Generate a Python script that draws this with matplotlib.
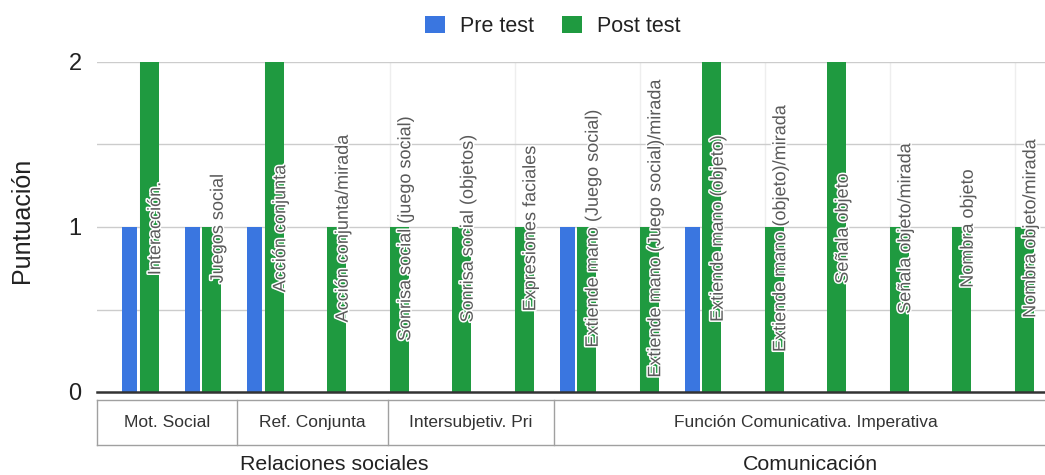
import matplotlib
matplotlib.use("Agg")
import matplotlib.pyplot as plt
import matplotlib.patheffects as pe
from matplotlib.transforms import blended_transform_factory
import numpy as np

plt.rcParams["font.family"] = ["Liberation Sans", "DejaVu Sans"]

# ---- data -------------------------------------------------------------
categories = [
    "Interacción.", "Juegos social",
    "Acción conjunta", "Acción conjunta/mirada",
    "Sonrisa social (juego social)", "Sonrisa social (objetos)",
    "Expresiones faciales",
    "Extiende mano (Juego social)", "Extiende mano (Juego social)/mirada",
    "Extiende mano (objeto)", "Extiende mano (objeto)/mirada",
    "Señala objeto", "Señala objeto/mirada",
    "Nombra objeto", "Nombra objeto/mirada",
]
pre_test = [1, 1, 1, 0, 0, 0, 0, 1, 0, 1, 0, 0, 0, 0, 0]
post_test = [2, 1, 2, 1, 1, 1, 1, 1, 1, 2, 1, 2, 1, 1, 1]

subgroups = ["Mot. Social", "Ref. Conjunta", "Intersubjetiv. Pri",
             "Función Comunicativa. Imperativa"]
groups = ["Relaciones sociales", "Comunicación"]
series_names = ["Pre test", "Post test"]
y_ticks = [0, 1, 2]

# ---- layout -----------------------------------------------------------
BLUE = "#3a76e0"
GREEN = "#1f9a40"
X_MIN, X_MAX = -0.69, 14.67
# cell boundaries of the sub-group table (in category units)
sub_edges = [X_MIN, 1.546, 3.962, 6.627, X_MAX]
group_centers = [3.10, 10.72]

fig = plt.figure(figsize=(10.45, 4.75), dpi=100)
ax = fig.add_axes([97 / 1045, 83 / 475, 960 / 1045, 330 / 475])

x = np.arange(len(categories))
ax.bar(x - 0.165, pre_test, width=0.245, color=BLUE, zorder=3,
       label=series_names[0])
ax.bar(x + 0.145, post_test, width=0.30, color=GREEN, zorder=3,
       label=series_names[1])

ax.set_xlim(X_MIN, X_MAX)
ax.set_ylim(0, 2)

# grid
for v in np.arange(0.5, 2.01, 0.5):
    ax.axhline(v, color="#cccccc", lw=1, zorder=1)
for xi in x[::2]:
    ax.axvline(xi, color="#eeeeee", lw=1, zorder=0.5)
ax.axhline(0, color="#333333", lw=1.8, zorder=4, clip_on=False)

for s in ax.spines.values():
    s.set_visible(False)
ax.set_xticks([])
ax.set_yticks(y_ticks)
ax.set_yticklabels([str(t) for t in y_ticks], fontsize=17, color="#222222")
ax.tick_params(axis="y", length=0, pad=11)

ax.text(-0.078, 0.52, "Puntuación", transform=ax.transAxes, rotation=90,
        ha="center", va="center", fontsize=18, color="#222222")

# category labels drawn vertically over the bars
halo = [pe.withStroke(linewidth=2.2, foreground="white")]
for xi, name in zip(x, categories):
    ax.text(xi + 0.25, 0.99, name, rotation=90, ha="center", va="center",
            fontsize=13, color="#5a5a5a", zorder=5, path_effects=halo)

# sub-group table and group labels below the axis
trans = blended_transform_factory(ax.transData, ax.transAxes)
y_top, y_bot = -0.0242, -0.1606
line_kw = dict(color="#a0a0a0", lw=1, transform=trans, clip_on=False)
ax.plot([X_MIN, X_MAX], [y_top, y_top], **line_kw)
ax.plot([X_MIN, X_MAX], [y_bot, y_bot], **line_kw)
for e in sub_edges[:-1]:
    ax.plot([e, e], [y_top, y_bot], **line_kw)
for i, name in enumerate(subgroups):
    cx = (sub_edges[i] + sub_edges[i + 1]) / 2
    ax.text(cx, (y_top + y_bot) / 2, name, transform=trans, ha="center",
            va="center", fontsize=12.5, color="#333333")
for cx, name in zip(group_centers, groups):
    ax.text(cx, -0.2212, name, transform=trans, ha="center", va="center",
            fontsize=15.4, color="#222222")

fig.legend(loc="center", bbox_to_anchor=(553 / 1045, 1 - 26.5 / 475),
           ncol=2, frameon=False, fontsize=15.5, handlelength=0.93,
           handleheight=0.85, handletextpad=0.7, columnspacing=1.3,
           borderaxespad=0, borderpad=0, labelcolor="#222222")

fig.savefig("out.png", dpi=100)
